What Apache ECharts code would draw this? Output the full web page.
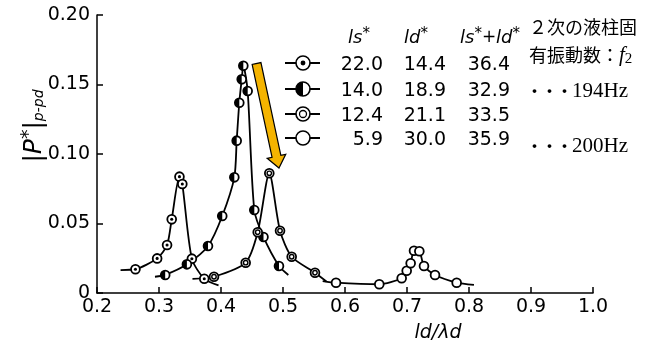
<!DOCTYPE html>
<html>
<head>
<meta charset="utf-8">
<script src="https://cdn.jsdelivr.net/npm/echarts@6/dist/echarts.min.js"></script>
<style>
  html, body { margin: 0; padding: 0; background: #fff; }
  #chart { width: 662px; height: 345px; }
</style>
</head>
<body>
<div id="chart"></div>
<script>
// axis ticks
const xTicks = [0.2, 0.3, 0.4, 0.5, 0.6, 0.7, 0.8, 0.9, 1.0];
const yTicks = [0, 0.05, 0.1, 0.15, 0.2];

// ls* = 22.0 (dotted circle)
const s1Points = [
  [0.262, 0.0171], [0.297, 0.0249], [0.313, 0.0345], [0.3205, 0.053],
  [0.333, 0.0837], [0.3376, 0.0784], [0.353, 0.0247], [0.373, 0.0102],
];
const s1Tails = [[0.238, 0.0165], [0.396, 0.0055]];

// ls* = 14.0 (half filled)
const s2Points = [
  [0.310, 0.013], [0.345, 0.0206], [0.379, 0.0338], [0.402, 0.0554],
  [0.4215, 0.0832], [0.4253, 0.1096], [0.4295, 0.1369], [0.4334, 0.1537],
  [0.436, 0.1635], [0.443, 0.1453], [0.4537, 0.0597], [0.4685, 0.0403],
  [0.4935, 0.0194],
];
const s2Tails = [[0.2935, 0.0117], [0.5086, 0.013]];

// ls* = 12.4 (double circle)
const s3Points = [
  [0.3887, 0.0117], [0.4398, 0.0218], [0.4592, 0.0437], [0.4779, 0.0861],
  [0.4952, 0.0448], [0.514, 0.0261], [0.5516, 0.0146],
];
const s3Tails = [[0.354, 0.0101], [0.570, 0.0083]];

// ls* = 5.9 (open circle)
const s4Points = [
  [0.5855, 0.0074], [0.6553, 0.0063], [0.6914, 0.0106], [0.6995, 0.016],
  [0.7059, 0.0214], [0.7113, 0.0304], [0.7199, 0.030], [0.7274, 0.0194],
  [0.7452, 0.0129], [0.7801, 0.0074],
];
const s4Tails = [[0.564, 0.0086], [0.808, 0.0058]];

// legend table
const markerKinds = ["dot", "half", "double", "open"];
const lsValues = ["22.0", "14.0", "12.4", "5.9"];
const ldValues = ["14.4", "18.9", "21.1", "30.0"];
const sumValues = ["36.4", "32.9", "33.5", "35.9"];

// arrow (data coords)
const arrowFrom = [0.4573, 0.1651];
const arrowTo = [0.4935, 0.0899];

const NUM_FONT = "DejaVu Sans";
const CJK_FONT = "'Noto Sans CJK JP'";

const makeMarker = (kind, cx, cy, r, lw) => {
  const parts = [{
    type: "circle",
    shape: { cx, cy, r },
    style: { fill: "#fff", stroke: "#000", lineWidth: lw },
  }];
  if (kind === "dot") {
    parts.push({ type: "circle", shape: { cx, cy, r: r * 0.35 }, style: { fill: "#000" } });
  } else if (kind === "half") {
    parts.push({
      type: "sector",
      shape: { cx, cy, r0: 0, r, startAngle: Math.PI / 2, endAngle: Math.PI * 1.5 },
      style: { fill: "#000" },
    });
  } else if (kind === "double") {
    parts.push({
      type: "circle",
      shape: { cx, cy, r: r * 0.5 },
      style: { fill: "none", stroke: "#000", lineWidth: lw * 0.8 },
    });
  }
  return parts;
};

const seriesDefs = [
  { points: s1Points, tails: s1Tails, kind: "dot" },
  { points: s2Points, tails: s2Tails, kind: "half" },
  { points: s3Points, tails: s3Tails, kind: "double" },
  { points: s4Points, tails: s4Tails, kind: "open" },
];

const series = [];
seriesDefs.forEach((def) => {
  series.push({
    type: "line",
    data: [def.tails[0], ...def.points, def.tails[1]],
    smooth: 0.25,
    showSymbol: false,
    lineStyle: { color: "#000", width: 1.8 },
    z: 2,
    silent: true,
  });
  series.push({
    type: "custom",
    data: def.points,
    encode: { x: 0, y: 1 },
    z: 3,
    renderItem: (params, api) => {
      const p = api.coord([api.value(0), api.value(1)]);
      return { type: "group", children: makeMarker(def.kind, p[0], p[1], 4.4, 1.8) };
    },
  });
});

const legendGraphics = [];
const rowY = [63, 89, 114, 138];
markerKinds.forEach((kind, i) => {
  const y = rowY[i];
  legendGraphics.push({
    type: "line",
    shape: { x1: 285, y1: y, x2: 320, y2: y },
    style: { stroke: "#000", lineWidth: 1.8 },
  });
  makeMarker(kind, 303, y, 7, 1.6).forEach((g) => legendGraphics.push(g));
  const textY = y + 2;
  [[lsValues[i], 383], [ldValues[i], 446], [sumValues[i], 510]].forEach(([t, x]) => {
    legendGraphics.push({
      type: "text",
      x, y: textY,
      style: { text: t, font: `19px ${NUM_FONT}`, fill: "#000", align: "right", verticalAlign: "middle" },
    });
  });
});

const headerRich = {
  i: { fontFamily: NUM_FONT, fontStyle: "italic", fontSize: 18 },
  st: { fontFamily: NUM_FONT, fontSize: 15, verticalAlign: "top", padding: [0, 0, 8, 0] },
  p: { fontFamily: NUM_FONT, fontSize: 17 },
};
[["{i|ls}{st|*}", 348], ["{i|ld}{st|*}", 404], ["{i|ls}{st|*}{p|+}{i|ld}{st|*}", 460]].forEach(([t, x]) => {
  legendGraphics.push({
    type: "text", x, y: 38,
    style: { text: t, rich: headerRich, fill: "#000", verticalAlign: "middle" },
  });
});

const jpRich = {
  j: { fontFamily: CJK_FONT, fontSize: 18 },
  f: { fontFamily: "Liberation Serif", fontStyle: "italic", fontSize: 21 },
  sub: { fontFamily: "Liberation Serif", fontSize: 15, padding: [8, 0, 0, 0] },
  dots: { fontFamily: CJK_FONT, fontSize: 15, fontWeight: "bold" },
  hz: { fontFamily: "Liberation Serif", fontSize: 21 },
};
legendGraphics.push(
  { type: "text", x: 529, y: 27, style: { text: "{j|２次の液柱固}", rich: jpRich, fill: "#000", verticalAlign: "middle" } },
  { type: "text", x: 529, y: 55, style: { text: "{j|有振動数：}{f|f}{sub|2}", rich: jpRich, fill: "#000", verticalAlign: "middle" } },
  { type: "text", x: 527, y: 91, style: { text: "{dots|・・・}{hz|194Hz}", rich: jpRich, fill: "#000", verticalAlign: "middle" } },
  { type: "text", x: 527, y: 146, style: { text: "{dots|・・・}{hz|200Hz}", rich: jpRich, fill: "#000", verticalAlign: "middle" } },
  // y-axis title, rotated
  {
    type: "text", x: 34, y: 126, rotation: Math.PI / 2,
    style: {
      text: "{b|\u007CP}{st|*}{b|\u007C}{sub|p-pd}",
      rich: {
        b: { fontFamily: NUM_FONT, fontStyle: "italic", fontSize: 25 },
        st: { fontFamily: NUM_FONT, fontSize: 19, verticalAlign: "top", padding: [0, 0, 10, 0] },
        sub: { fontFamily: NUM_FONT, fontStyle: "italic", fontSize: 14, padding: [10, 0, 0, 0] },
      },
      fill: "#000", align: "center", verticalAlign: "middle",
    },
  },
  // x-axis title
  {
    type: "text", x: 438, y: 333,
    style: { text: "ld/λd", font: `italic 19px ${NUM_FONT}`, fill: "#000", align: "center", verticalAlign: "middle" },
  }
);

const chart = echarts.init(document.getElementById("chart"), null, { renderer: "canvas" });

chart.setOption({
  animation: false,
  backgroundColor: "#fff",
  grid: { left: 97, right: 69, top: 15, bottom: 52, containLabel: false },
  xAxis: {
    type: "value",
    min: 0.2, max: 1.0, interval: 0.1,
    axisLine: { lineStyle: { color: "#000", width: 1.5 } },
    axisTick: { inside: true, length: 6, lineStyle: { color: "#000", width: 1.5 } },
    splitLine: { show: false },
    axisLabel: {
      color: "#000", fontFamily: NUM_FONT, fontSize: 19, margin: 5,
      formatter: (v) => {
        const t = xTicks.find((x) => Math.abs(x - v) < 1e-6);
        return t === undefined ? "" : t.toFixed(1);
      },
    },
  },
  yAxis: {
    type: "value",
    min: 0, max: 0.2, interval: 0.05,
    axisLine: { show: true, lineStyle: { color: "#000", width: 1.5 } },
    axisTick: { show: true, inside: true, length: 6, lineStyle: { color: "#000", width: 1.5 } },
    splitLine: { show: false },
    axisLabel: {
      color: "#000", fontFamily: NUM_FONT, fontSize: 19, margin: 7,
      formatter: (v) => {
        const t = yTicks.find((y) => Math.abs(y - v) < 1e-6);
        if (t === undefined) return "";
        return t === 0 ? "0" : t.toFixed(2);
      },
    },
  },
  graphic: legendGraphics,
  series,
});

// arrow annotation, placed through the axis scales
const a0 = chart.convertToPixel({ gridIndex: 0 }, arrowFrom);
const a1 = chart.convertToPixel({ gridIndex: 0 }, arrowTo);
const dx = a1[0] - a0[0], dy = a1[1] - a0[1];
const len = Math.hypot(dx, dy);
const ux = dx / len, uy = dy / len;
const px = -uy, py = ux;
const headLen = 12, shaftW = 4.5, headW = 9.5;
const bx = a1[0] - ux * headLen, by = a1[1] - uy * headLen;
const arrowPts = [
  [a0[0] + px * shaftW, a0[1] + py * shaftW],
  [bx + px * shaftW, by + py * shaftW],
  [bx + px * headW, by + py * headW],
  [a1[0], a1[1]],
  [bx - px * headW, by - py * headW],
  [bx - px * shaftW, by - py * shaftW],
  [a0[0] - px * shaftW, a0[1] - py * shaftW],
];
chart.setOption({
  graphic: [...legendGraphics, {
    type: "polygon",
    z: 10,
    shape: { points: arrowPts },
    style: { fill: "#F5B400", stroke: "#000", lineWidth: 1.2 },
  }],
});
</script>
</body>
</html>
